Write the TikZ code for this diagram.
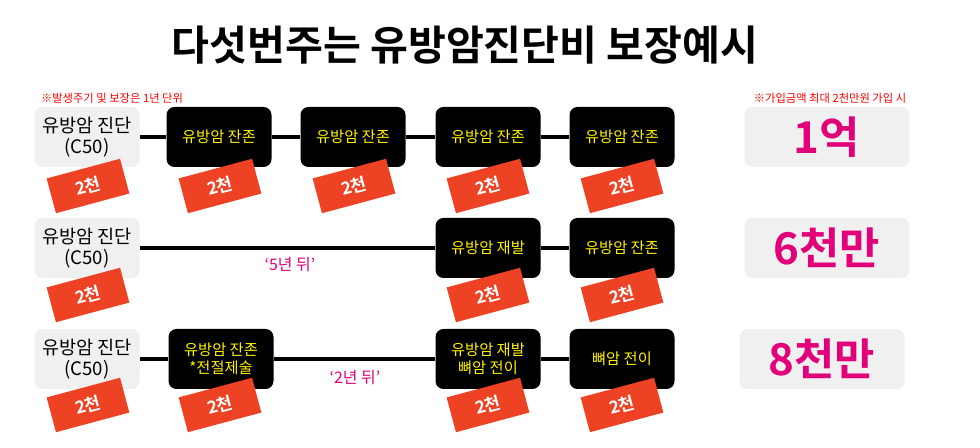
\documentclass[tikz,border=0pt]{standalone}
\usepackage{fontspec}
\setmainfont{Noto Sans CJK KR}
\newfontfamily\kb{Noto Sans CJK KR}[BoldFont={* Bold}]
\definecolor{tagc}{RGB}{238,66,36}
\definecolor{mag}{RGB}{226,0,122}
\begin{document}
\begin{tikzpicture}[x=0.0264583cm,y=-0.0264583cm,
 gbox/.style={fill=black!6,rounded corners=6pt,minimum width=105*0.0264583cm,minimum height=60*0.0264583cm,align=center,font=\fontsize{14}{16}\selectfont,inner sep=0},
 bbox/.style={fill=black,rounded corners=6pt,minimum width=105*0.0264583cm,minimum height=60*0.0264583cm,align=center,text=yellow,font=\fontsize{11.5}{13.5}\selectfont,inner sep=0},
 tag/.style={fill=tagc,rotate=15,minimum width=76*0.0264583cm,minimum height=36*0.0264583cm,text=white,font=\kb\bfseries\fontsize{13}{15}\selectfont,inner sep=0},
 amt/.style={fill=black!6,rounded corners=6pt,minimum width=165*0.0264583cm,minimum height=60*0.0264583cm,text=mag,font=\kb\bfseries\fontsize{33}{35}\selectfont,inner sep=0},
 note/.style={text=red,font=\fontsize{8.5}{10}\selectfont},
 lbl/.style={text=mag,font=\fontsize{12}{14}\selectfont},
 ln/.style={line width=2.4pt}]
\useasboundingbox[fill=white] (0,0) rectangle (980,448);
\node[font=\kb\bfseries\fontsize{31}{34}\selectfont] (title) at (465,45) {다섯번주는 유방암진단비 보장예시};
\node[note] (n1) at (112,98) {※발생주기 및 보장은 1년 단위};
\node[note] (n2) at (830,98) {※가입금액 최대 2천만원 가입 시};
% row 1
\node[gbox] (a1) at (87,137) {유방암 진단\\(C50)};
\node[bbox] (b1) at (219,137) {유방암 잔존};
\node[bbox] (c1) at (353,137) {유방암 잔존};
\node[bbox] (d1) at (488,137) {유방암 잔존};
\node[bbox] (e1) at (622,137) {유방암 잔존};
\draw[ln] (a1)--(b1) (b1)--(c1) (c1)--(d1) (d1)--(e1);
\node[amt] (m1) at (827,137) {1억};
% row 2
\node[gbox] (a2) at (87,248) {유방암 진단\\(C50)};
\node[bbox] (d2) at (488,248) {유방암 재발};
\node[bbox] (e2) at (622,248) {유방암 잔존};
\draw[ln] (a2)--(d2) (d2)--(e2);
\node[lbl] (l2) at (290,265) {‘5년 뒤’};
\node[amt] (m2) at (827,248) {6천만};
% row 3
\node[gbox] (a3) at (87,359) {유방암 진단\\(C50)};
\node[bbox] (b3) at (221,359) {유방암 잔존\\*전절제술};
\node[bbox] (d3) at (488,359) {유방암 재발\\뼈암 전이};
\node[bbox] (e3) at (622,359) {뼈암 전이};
\draw[ln] (a3)--(b3) (b3)--(d3) (d3)--(e3);
\node[lbl] (l3) at (355,378) {‘2년 뒤’};
\node[amt] (m3) at (822,359) {8천만};
% tags
\foreach \x/\n in {88/1,220/2,354/3,488/4,622/5}{\node[tag] (t1\n) at (\x,186) {2천};}
\foreach \x/\n in {88/1,488/4,622/5}{\node[tag] (t2\n) at (\x,295) {2천};}
\foreach \x/\n in {88/1,220/2,488/4,622/5}{\node[tag] (t3\n) at (\x,405) {2천};}
\end{tikzpicture}
\end{document}
